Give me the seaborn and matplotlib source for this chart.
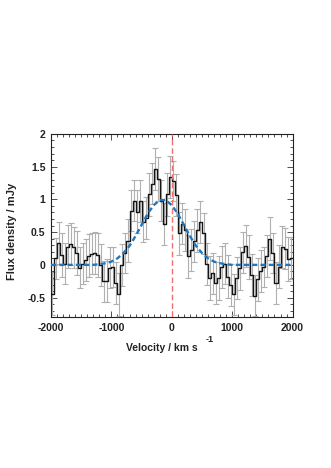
import numpy as np
import seaborn as sns
import matplotlib.pyplot as plt
from matplotlib.ticker import MultipleLocator, FormatStrFormatter

# spectrum, 50 km/s bins from -2000 to 2000
bin_edges = list(range(-2000, 2001, 50))
flux = [-0.44, 0.10, 0.34, 0.15, 0.02, 0.28, 0.32, 0.27, 0.18, -0.04,
        0.02, 0.08, 0.14, 0.17, 0.18, 0.15, 0.00, -0.25, -0.24, -0.04,
        -0.03, -0.28, -0.45, 0.00, 0.18, 0.37, 0.83, 0.98, 0.81, 0.98,
        0.66, 0.72, 1.08, 1.24, 1.46, 1.31, 0.98, 0.63, 1.08, 1.34,
        1.28, 1.06, 0.48, 0.63, 0.53, 0.13, 0.23, 0.36, 0.53, 0.66,
        0.48, 0.02, -0.20, -0.13, -0.28, -0.20, -0.03, 0.02, -0.18, -0.30,
        -0.45, -0.20, -0.05, 0.19, 0.29, 0.12, -0.16, -0.47, -0.22, -0.10,
        -0.03, 0.13, 0.40, 0.18, -0.28, -0.03, 0.27, 0.25, 0.09, 0.10]
flux_err = [0.33, 0.31, 0.32, 0.33, 0.31, 0.33, 0.32, 0.31, 0.33, 0.32,
            0.31, 0.32, 0.33, 0.31, 0.32, 0.33, 0.32, 0.31, 0.33, 0.32,
            0.31, 0.32, 0.33, 0.32, 0.31, 0.33, 0.32, 0.31, 0.33, 0.32,
            0.31, 0.32, 0.33, 0.31, 0.32, 0.33, 0.31, 0.32, 0.33, 0.32,
            0.31, 0.32, 0.33, 0.31, 0.32, 0.33, 0.32, 0.31, 0.33, 0.32,
            0.31, 0.32, 0.33, 0.31, 0.32, 0.33, 0.32, 0.31, 0.33, 0.32,
            0.31, 0.32, 0.33, 0.31, 0.32, 0.33, 0.32, 0.31, 0.33, 0.32,
            0.31, 0.32, 0.33, 0.31, 0.32, 0.33, 0.32, 0.31, 0.33, 0.32]

# gaussian fit, read every 100 km/s
model_vel = list(range(-2000, 2001, 100))
model_flux = [0.0, 0.0, 0.0, 0.0, 0.0, 0.0, 0.0, 0.0,
              0.01, 0.025, 0.05, 0.10, 0.18, 0.29, 0.44, 0.61, 0.78, 0.91,
              0.99, 0.99, 0.91, 0.78, 0.61, 0.44, 0.29, 0.18, 0.10, 0.05,
              0.025, 0.01,
              0.0, 0.0, 0.0, 0.0, 0.0, 0.0, 0.0, 0.0, 0.0, 0.0, 0.0]

sns.set_theme(style="ticks")
plt.rcParams['font.family'] = ['Liberation Sans', 'DejaVu Sans']
plt.rcParams['axes.unicode_minus'] = False

fig = plt.figure(figsize=(3.31, 4.68), dpi=100)
ax = fig.add_axes([0.154, 0.322, 0.730, 0.392])

centers = np.array(bin_edges[:-1]) + 25
ax.errorbar(centers, flux, yerr=flux_err, fmt='none', ecolor='#b0b0b0',
            elinewidth=0.8, capsize=2.5, capthick=0.8, zorder=1)

sns.lineplot(x=bin_edges, y=flux + [flux[-1]], drawstyle='steps-post',
             color='#151515', linewidth=1.0, ax=ax, zorder=3)
sns.lineplot(x=model_vel, y=model_flux, color='#1f77c0', linewidth=1.7,
             ax=ax, zorder=4).lines[-1].set_dashes((2.2, 1.3))
ax.axvline(0, color='#f07070', linewidth=1.0, dashes=(4, 2.2), zorder=5)

ax.set_xlim(-2000, 2000)
ax.set_ylim(-0.8, 2)
ax.xaxis.set_major_locator(MultipleLocator(1000))
ax.xaxis.set_minor_locator(MultipleLocator(100))
ax.yaxis.set_major_locator(MultipleLocator(0.5))
ax.yaxis.set_minor_locator(MultipleLocator(0.1))
ax.yaxis.set_major_formatter(FormatStrFormatter('%g'))

ax.tick_params(which='both', direction='in', top=True, right=True,
               color='#333333', width=0.6)
ax.tick_params(which='major', length=4, labelsize=7.5, pad=4, labelcolor='#222222')
ax.tick_params(which='minor', length=2)
for lab in ax.get_xticklabels() + ax.get_yticklabels():
    lab.set_fontweight('bold')
for sp in ax.spines.values():
    sp.set_linewidth(0.8)
    sp.set_color('#222222')

ax.set_xlabel('Velocity / km s', fontsize=7.5, fontweight='bold', color='#222222')
ax.xaxis.set_label_coords(0.46, -0.14)
ax.text(0.642, -0.12, '-1', transform=ax.transAxes, fontsize=6.5,
        fontweight='bold', color='#222222', ha='left', va='center')
ax.set_ylabel('Flux density / mJy', fontsize=8, fontweight='bold', color='#222222')
ax.yaxis.set_label_coords(-0.141, 0.467)

fig.savefig('out.png', dpi=100, facecolor='white')
